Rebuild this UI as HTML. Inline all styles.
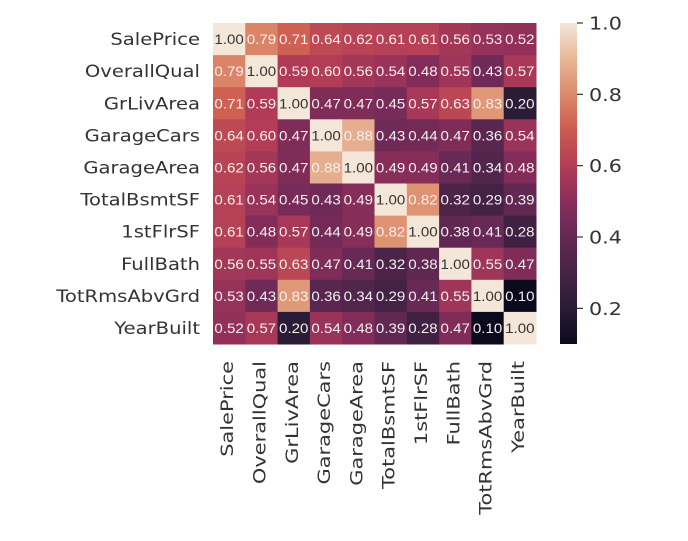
<!DOCTYPE html>
<html><head><meta charset="utf-8"><style>
body{margin:0;background:#fff;}
svg text{font-family:"DejaVu Sans","Liberation Sans",sans-serif;}
</style></head><body>
<svg id="chart" width="688" height="536" xmlns="http://www.w3.org/2000/svg">
<defs><linearGradient id="cb" x1="0" y1="1" x2="0" y2="0"></linearGradient></defs>
<g id="cells"></g>
<g id="ylab"></g>
<g id="xlab"></g>
<rect id="cbar" x="560" y="23" width="17" height="321" fill="url(#cb)"/>
<g id="cbt"></g>
</svg>
<script>
const labels=["SalePrice","OverallQual","GrLivArea","GarageCars","GarageArea","TotalBsmtSF","1stFlrSF","FullBath","TotRmsAbvGrd","YearBuilt"];
const row0=[1.00,0.79,0.71,0.64,0.62,0.61,0.61,0.56,0.53,0.52];
const row1=[0.79,1.00,0.59,0.60,0.56,0.54,0.48,0.55,0.43,0.57];
const row2=[0.71,0.59,1.00,0.47,0.47,0.45,0.57,0.63,0.83,0.20];
const row3=[0.64,0.60,0.47,1.00,0.88,0.43,0.44,0.47,0.36,0.54];
const row4=[0.62,0.56,0.47,0.88,1.00,0.49,0.49,0.41,0.34,0.48];
const row5=[0.61,0.54,0.45,0.43,0.49,1.00,0.82,0.32,0.29,0.39];
const row6=[0.61,0.48,0.57,0.44,0.49,0.82,1.00,0.38,0.41,0.28];
const row7=[0.56,0.55,0.63,0.47,0.41,0.32,0.38,1.00,0.55,0.47];
const row8=[0.53,0.43,0.83,0.36,0.34,0.29,0.41,0.55,1.00,0.10];
const row9=[0.52,0.57,0.20,0.54,0.48,0.39,0.28,0.47,0.10,1.00];
const matrix=[row0,row1,row2,row3,row4,row5,row6,row7,row8,row9];
const cbTicks=[0.2,0.4,0.6,0.8,1.0];
const vmin=0.10,vmax=1.0;
const stops=["#0B0A1C","#2A1B36","#462347","#652855","#8A2D5B","#B33D56","#CC5C4E","#DB8A6A","#E8B797","#F4E7DA"];
const X0=213,Y0=23,CW=32.3,CH=32.1;
function hx(c){return [1,3,5].map(i=>parseInt(c.substr(i,2),16));}
function cmap(v){const n=stops.length-1;let t=Math.max(0,Math.min(1,(v-vmin)/(vmax-vmin)))*n;let i=Math.min(n-1,Math.floor(t)),f=t-i;
const a=hx(stops[i]),b=hx(stops[i+1]);return "rgb("+a.map((x,k)=>Math.round(x+(b[k]-x)*f)).join(",")+")";}
function xs(j){return X0+j*CW;} function ys(i){return Y0+i*CH;}
function cby(v){return 344-(v-vmin)/(vmax-vmin)*321;}
const NS="http://www.w3.org/2000/svg";
function mk(t,p,at){const e=document.createElementNS(NS,t);for(const k in at)e.setAttribute(k,at[k]);p.appendChild(e);return e;}
function stretch(t,f){const L=t.getComputedTextLength();t.setAttribute('textLength',(L*f).toFixed(1));t.setAttribute('lengthAdjust','spacingAndGlyphs');}
const cells=document.getElementById('cells');
matrix.forEach((row,i)=>row.forEach((v,j)=>{
 const r=mk('rect',cells,{x:xs(j),y:ys(i),width:CW+0.5,height:CH+0.5,fill:cmap(v)});
 
 
 const t=mk('text',cells,{x:xs(j)+CW/2,y:ys(i)+CH/2+5,'text-anchor':'middle','font-size':'13.5',fill:v>0.9?'#333':'#f4f0ee',style:'font-family:"Liberation Sans",sans-serif'});
 t.textContent=v.toFixed(2);
 
 
 stretch(t,1.12);
}));
const yl=document.getElementById('ylab'),xl=document.getElementById('xlab');
labels.forEach((l,i)=>{
 const t=mk('text',yl,{x:X0-13,y:ys(i)+CH/2+6,'text-anchor':'end','font-size':'17',fill:'#333'});t.textContent=l;
 
 
 stretch(t,1.15);
 const cx=xs(i)+CW/2+4;
 const u=mk('text',xl,{x:cx,y:361,'text-anchor':'end','font-size':'17',fill:'#333',transform:'rotate(-90 '+cx+' 361)'});u.textContent=l;
 
 
 stretch(u,1.23);
});
const g=document.getElementById('cb');
stops.forEach((s,k)=>mk('stop',g,{offset:(k/(stops.length-1)),'stop-color':s}));
const ct=document.getElementById('cbt');
cbTicks.forEach(v=>{const y=cby(v);
 mk('line',ct,{x1:577,x2:583,y1:y,y2:y,stroke:'#333','stroke-width':1.2});
 const t=mk('text',ct,{x:589,y:y+6.5,'font-size':'18',fill:'#333'});t.textContent=v.toFixed(1);
 
 
 stretch(t,1.15);
});
</script>
</body></html>
